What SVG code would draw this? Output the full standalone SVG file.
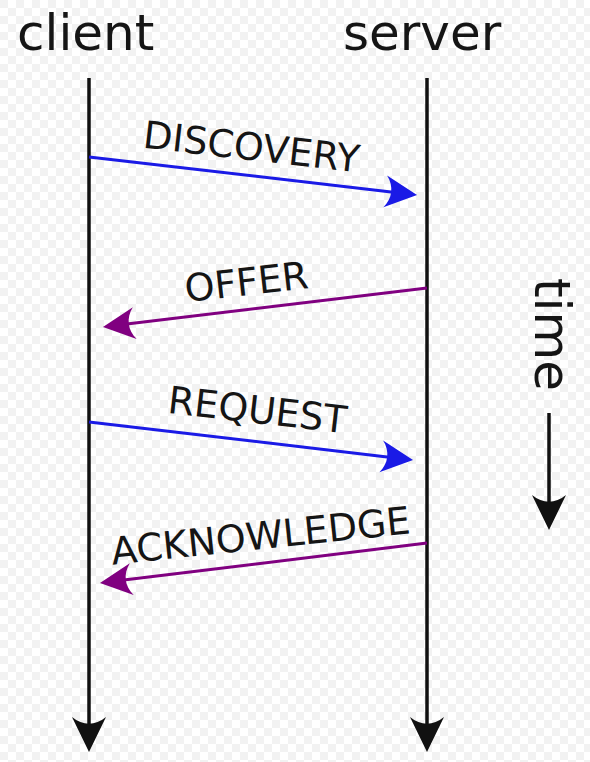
<svg xmlns="http://www.w3.org/2000/svg" width="590" height="762" viewBox="0 0 590 762">
  <style>
    .lbl { font-family: "DejaVu Sans", sans-serif; fill: #151515; }
    .title { font-size: 50px; }
    .msg { font-size: 38px; text-anchor: middle; }
    .life { stroke: #111; stroke-width: 3.5; fill: none; }
    .blue { stroke: #1a1ae6; stroke-width: 3; fill: none; }
    .purple { stroke: #800080; stroke-width: 3; fill: none; }
  </style>
  <defs>
    <pattern id="checker" width="16" height="16" patternUnits="userSpaceOnUse">
      <rect width="16" height="16" fill="#ffffff"/>
      <rect width="8" height="8" fill="#f2f2f2"/>
      <rect x="8" y="8" width="8" height="8" fill="#f2f2f2"/>
    </pattern>
    <marker id="headBlack" markerUnits="userSpaceOnUse" orient="auto" refX="0" refY="0" markerWidth="60" markerHeight="60" overflow="visible">
      <path d="M24,0 L-11,-17 C-2,-6 -2,6 -11,17 Z" fill="#111"/>
    </marker>
    <marker id="headBlue" markerUnits="userSpaceOnUse" orient="auto" refX="0" refY="0" markerWidth="60" markerHeight="60" overflow="visible">
      <path d="M24,0 L-8,-16 C0,-6 0,6 -8,16 Z" fill="#1a1ae6"/>
    </marker>
    <marker id="headPurple" markerUnits="userSpaceOnUse" orient="auto" refX="0" refY="0" markerWidth="60" markerHeight="60" overflow="visible">
      <path d="M24,0 L-8,-16 C0,-6 0,6 -8,16 Z" fill="#800080"/>
    </marker>
  </defs>
  <rect width="590" height="762" fill="url(#checker)"/>

  <g id="client">
    <text class="lbl title" x="17" y="50">client</text>
  </g>
  <g id="server">
    <text class="lbl title" x="343" y="50">server</text>
  </g>
  <g id="time">
    <text class="lbl title" x="0" y="0" transform="translate(535,278) rotate(90)">time</text>
  </g>

  <g id="connectors">
    <line id="client-lifeline" class="life" x1="89" y1="78" x2="89" y2="728" marker-end="url(#headBlack)"/>
    <line id="server-lifeline" class="life" x1="427" y1="78" x2="427" y2="728" marker-end="url(#headBlack)"/>
    <line id="time-arrow" class="life" x1="549" y1="413" x2="549" y2="506" marker-end="url(#headBlack)"/>

    <line id="discovery" class="blue" x1="89" y1="157" x2="393.2" y2="192.2" marker-end="url(#headBlue)"/>
    <line id="offer" class="purple" x1="427" y1="288" x2="126.8" y2="324.1" marker-end="url(#headPurple)"/>
    <line id="request" class="blue" x1="89" y1="422" x2="389.2" y2="457.2" marker-end="url(#headBlue)"/>
    <line id="acknowledge" class="purple" x1="427" y1="543" x2="123.8" y2="580.1" marker-end="url(#headPurple)"/>

    <text class="lbl msg" x="250" y="160" transform="rotate(6.6 250 160)">DISCOVERY</text>
    <text class="lbl msg" x="248" y="295" transform="rotate(-6.5 248 295)">OFFER</text>
    <text class="lbl msg" x="256" y="423" transform="rotate(6.6 256 423)">REQUEST</text>
    <text class="lbl msg" x="262" y="549" transform="rotate(-6 262 549)">ACKNOWLEDGE</text>
  </g>
</svg>
